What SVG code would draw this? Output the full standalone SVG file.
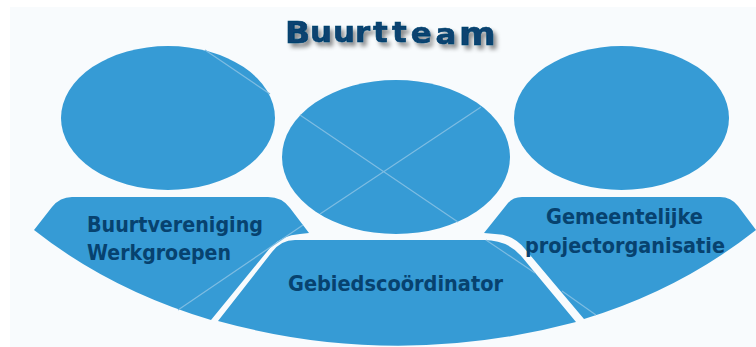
<svg xmlns="http://www.w3.org/2000/svg" width="756" height="347" viewBox="0 0 756 347">
<style>
.s{fill:#369bd5}
.c{stroke:#7dbce2;stroke-width:1.2;fill:none}
.t{font-family:"DejaVu Sans",sans-serif;font-weight:bold;font-size:21px;fill:#07426f}
.h{font-family:"DejaVu Sans",sans-serif;font-weight:bold;font-size:28px;fill:#07426f;stroke:#07426f;stroke-width:.6}
</style>
<defs><filter id="sh" x="-10%" y="-30%" width="125%" height="170%"><feDropShadow dx="3" dy="4" stdDeviation="2" flood-color="#000" flood-opacity=".45"/></filter></defs>
<rect width="756" height="347" fill="#fff"/>
<rect x="10" y="7" width="746" height="340" fill="#f8fbfd"/>
<g id="head-left"><ellipse class="s" cx="168" cy="118" rx="107" ry="72"/></g>
<g id="head-center"><ellipse class="s" cx="396" cy="157" rx="114" ry="77"/></g>
<g id="head-right"><ellipse class="s" cx="621.500" cy="118" rx="107.500" ry="72"/></g>
<g id="body-left"><path class="s" d="M34 230L52 207Q60 197 72 197L268 197Q282 197 290 208L309 233L300 234Q282 235 270 248L211 320Q110 290 34 230Z"/>
<text class="t" x="87" y="232" textLength="176" lengthAdjust="spacingAndGlyphs">Buurtvereniging</text>
<text class="t" x="87" y="260" textLength="144" lengthAdjust="spacingAndGlyphs">Werkgroepen</text></g>
<g id="body-center"><path class="s" d="M218 321L272 252Q281 240 295 240L484 240Q508 240 522 257L576 322Q396 370 218 321Z"/>
<text class="t" x="288" y="291" textLength="215" lengthAdjust="spacingAndGlyphs">Gebiedscoördinator</text></g>
<g id="body-right"><path class="s" d="M484 233L508 203Q513 197 522 197L720 197Q731 197 738 206L756 230Q680 290 584 319L525 249Q513 234 495 234Z"/>
<text class="t" x="546" y="224" textLength="157" lengthAdjust="spacingAndGlyphs">Gemeentelijke</text>
<text class="t" x="525" y="253" textLength="200" lengthAdjust="spacingAndGlyphs">projectorganisatie</text></g>
<g id="connectors">
<path class="c" d="M205 50L270 94M300 115L458 222M486 240L535 273M562 291L596 315M481 107L320 214M303 225L178 310"/>
</g>
<g id="title"><text class="h" filter="url(#sh)" transform="scale(1.1 1)"><tspan x="259" y="43.500" font-size="30">B</tspan><tspan x="281.800 302.700 322.700 339 356.400 373.500 396" y="42 42 42 42 42 43 44">uurttea</tspan><tspan x="417.300" y="45.500" font-size="32">m</tspan></text></g>
</svg>
